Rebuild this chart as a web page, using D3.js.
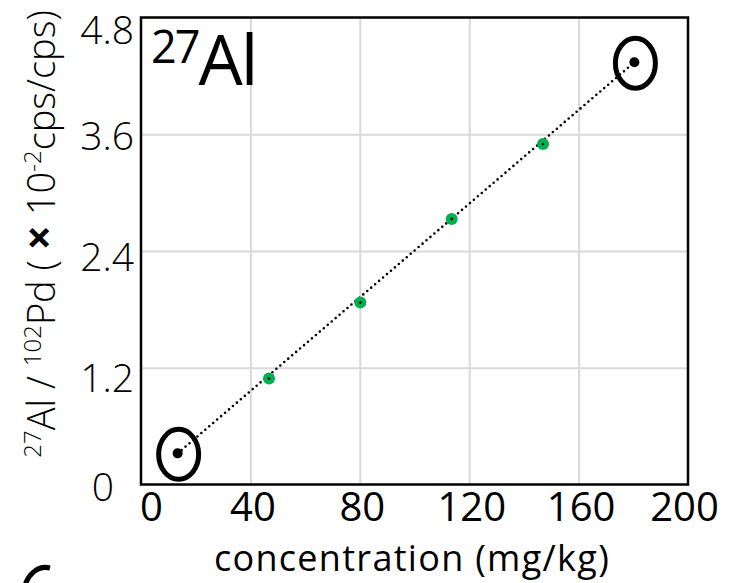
<!DOCTYPE html>
<html>
<head>
<meta charset="utf-8">
<script src="https://cdn.jsdelivr.net/npm/d3@7"></script>
<style>
  body { margin: 0; background: #fff; }
  text { font-family: "Open Sans", "Noto Sans", sans-serif; fill: #000; }
</style>
</head>
<body>
<div id="chart"></div>
<script>
// data
const concentration = [13.4, 46.8, 80.2, 113.6, 147.0, 180.4]
const ratio = [0.32, 1.09, 1.87, 2.73, 3.50, 4.34]
const excluded = [true, false, false, false, false, true]   // circled end points
const xTicks = [0, 40, 80, 120, 160, 200]
const yTicks = [0, 1.2, 2.4, 3.6, 4.8]

const width = 729, height = 583
const margin = { top: 17.5, right: 41, bottom: 98.5, left: 141 }
const w = width - margin.left - margin.right
const h = height - margin.top - margin.bottom

const svg = d3.select("#chart").append("svg")
    .attr("width", width)
    .attr("height", height)

const g = svg.append("g")
    .attr("transform", `translate(${margin.left},${margin.top})`)

//scales
const x = d3.scaleLinear().domain([0, 200]).range([0, w])
const y = d3.scaleLinear().domain([0, 4.8]).range([h, 0])

//grid
g.append("g")
    .attr("class", "grid")
    .call(d3.axisBottom(x).tickValues(xTicks.slice(1, -1)).tickSize(h).tickFormat(""))
    .call(s => s.select(".domain").remove())
    .call(s => s.selectAll("line").attr("stroke", "#d9d9d9").attr("stroke-width", 2))

g.append("g")
    .attr("class", "grid")
    .call(d3.axisLeft(y).tickValues(yTicks.slice(1, -1)).tickSize(-w).tickFormat(""))
    .call(s => s.select(".domain").remove())
    .call(s => s.selectAll("line").attr("stroke", "#d9d9d9").attr("stroke-width", 2))

//x tick labels
g.append("g")
    .attr("transform", `translate(0,${h})`)
    .call(d3.axisBottom(x).tickValues(xTicks).tickSize(0).tickPadding(8).tickFormat(d3.format("d")))
    .call(s => s.select(".domain").remove())
    .call(s => s.selectAll("text")
        .attr("font-size", 40)
        .attr("font-family", "'Open Sans', sans-serif")
        .attr("dx", d => d === 0 ? 10 : d === 200 ? -4 : 2))

//y tick labels
g.append("g")
    .call(d3.axisLeft(y).tickValues(yTicks).tickSize(0).tickPadding(7).tickFormat(d => d === 0 ? "0" : d3.format(".1f")(d)))
    .call(s => s.select(".domain").remove())
    .call(s => s.selectAll("text")
        .attr("font-size", 39)
        .attr("font-weight", 300)
        .attr("font-family", "'Open Sans', sans-serif")
        .attr("dy", d => d === 4.8 ? "0.67em" : d === 0 ? "0.42em" : d === 1.2 ? "0.62em" : d === 2.4 ? "0.5em" : "0.4em")
        .attr("dx", d => d === 0 ? -20 : 0))

//fit line (dotted) through the end points
const line = d3.line().x(d => x(d[0])).y(d => y(d[1]))
g.append("path")
    .datum([[concentration[0], ratio[0]], [concentration[5], ratio[5]]])
    .attr("d", line)
    .attr("fill", "none")
    .attr("stroke", "#000")
    .attr("stroke-width", 2.6)
    .attr("stroke-linecap", "round")
    .attr("stroke-dasharray", "0,5.2")

const pts = concentration.map((c, i) => ({ c, r: ratio[i], ex: excluded[i] }))

//points
g.selectAll(".pt")
    .data(pts)
    .enter().append("circle")
    .attr("class", "pt")
    .attr("cx", d => x(d.c))
    .attr("cy", d => y(d.r))
    .attr("r", d => d.ex ? 5 : 6)
    .attr("fill", d => d.ex ? "#000" : "#00b050")

//small line dot on top of the green markers
g.selectAll(".pt-dot")
    .data(pts.filter(d => !d.ex))
    .enter().append("circle")
    .attr("cx", d => x(d.c))
    .attr("cy", d => y(d.r))
    .attr("r", 1.3)
    .attr("fill", "#000")

//rings around excluded points
g.selectAll(".ring")
    .data(pts.filter(d => d.ex))
    .enter().append("ellipse")
    .attr("cx", d => x(d.c) + 1)
    .attr("cy", d => y(d.r) + 1)
    .attr("rx", 20)
    .attr("ry", 25)
    .attr("fill", "none")
    .attr("stroke", "#000")
    .attr("stroke-width", 5)

//frame
g.append("rect")
    .attr("width", w)
    .attr("height", h)
    .attr("fill", "none")
    .attr("stroke", "#000")
    .attr("stroke-width", 2.5)

//element label
const lab = g.append("text")
    .attr("x", 10)
    .attr("y", 67)
    .attr("font-size", 70)
    .attr("letter-spacing", -2)
lab.append("tspan").text("27").attr("font-size", 45).attr("dy", -22)
lab.append("tspan").text("Al").attr("dy", 22)

//x title
svg.append("text")
    .attr("x", 412)
    .attr("y", 571)
    .attr("text-anchor", "middle")
    .attr("font-size", 36)
    .attr("letter-spacing", 1.3)
    .text("concentration (mg/kg)")

//y title
const yt = svg.append("text")
    .attr("transform", "translate(55,234) rotate(-90)")
    .attr("text-anchor", "middle")
    .attr("font-size", 38)
    .attr("font-weight", 300)
yt.append("tspan").text("27").attr("font-size", 24).attr("dy", -14)
yt.append("tspan").text("Al / ").attr("dy", 14)
yt.append("tspan").text("102").attr("font-size", 24).attr("dy", -14)
yt.append("tspan").text("Pd ( ").attr("dy", 14)
yt.append("tspan").text("×").attr("font-weight", 700).attr("font-size", 44)
yt.append("tspan").text(" 10")
yt.append("tspan").text("-2").attr("font-size", 24).attr("dy", -14)
yt.append("tspan").text("cps/cps)").attr("dy", 14)

//cut-off ring from the neighbouring panel (only its upper-left part shows)
svg.append("path")
    .attr("d", "M24,590 A22,28 0 0 1 50,568")
    .attr("fill", "none")
    .attr("stroke", "#000")
    .attr("stroke-width", 5)
</script>
</body>
</html>
